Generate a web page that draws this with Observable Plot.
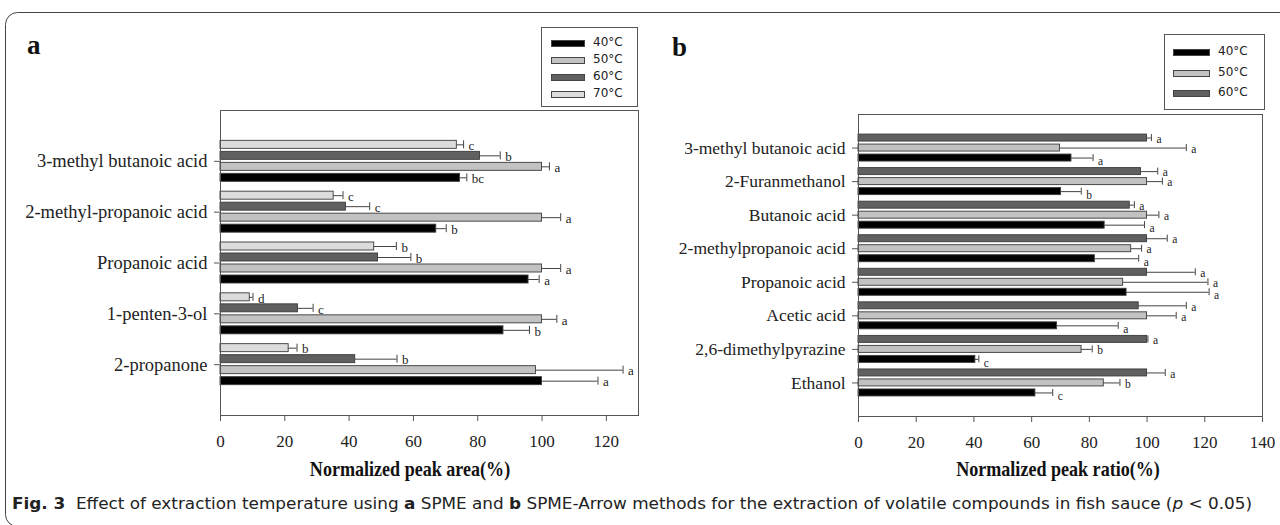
<!DOCTYPE html>
<html>
<head>
<meta charset="utf-8">
<script src="https://cdn.jsdelivr.net/npm/d3@7"></script>
<script src="https://cdn.jsdelivr.net/npm/@observablehq/plot@0.6"></script>
<style>
  html, body { margin: 0; padding: 0; background: #fff; }
  #wrap { position: relative; width: 1280px; height: 525px; overflow: hidden; background: #fff; }
  .abs { position: absolute; }
  .panel-letter { font-family: "Liberation Serif", serif; font-weight: bold; font-size: 27px; color: #111; line-height: 1; }
  .axis-title { font-family: "Liberation Serif", serif; font-weight: bold; font-size: 21px; color: #111; white-space: nowrap; transform: translateX(-50%) scaleX(0.86); line-height: 1; }
  .legend { border: 1px solid #555; box-sizing: border-box; background: #fff; }
  .legend .item { position: absolute; font-family: "DejaVu Sans", sans-serif; font-size: 12px; color: #222; white-space: nowrap; line-height: 1; }
  .legend .sw { position: absolute; box-sizing: border-box; border: 1px solid #444; }
</style>
</head>
<body>
<div id="wrap"></div>
<script>
// ---------- Data: panel a (SPME) ----------
const catsA = ["3-methyl butanoic acid", "2-methyl-propanoic acid", "Propanoic acid", "1-penten-3-ol", "2-propanone"];
const seriesA = ["40°C", "50°C", "60°C", "70°C"];
const a40 = [74.5, 67.1, 95.8, 88.0, 100];
const a50 = [100, 100, 100, 100, 98.1];
const a60 = [80.7, 39.0, 49.0, 24.1, 41.9];
const a70 = [73.5, 35.2, 47.8, 9.1, 21.2];
const a40err = [2.1, 3.1, 3.3, 8.1, 17.4];
const a50err = [2.3, 5.8, 5.8, 4.6, 27.1];
const a60err = [6.3, 7.4, 10.2, 4.7, 13.0];
const a70err = [2.1, 2.9, 6.9, 1.0, 2.6];
const a40sig = ["bc", "b", "a", "b", "a"];
const a50sig = ["a", "a", "a", "a", "a"];
const a60sig = ["b", "c", "b", "c", "b"];
const a70sig = ["c", "c", "b", "d", "b"];
const ticksA = [0, 20, 40, 60, 80, 100, 120];

// ---------- Data: panel b (SPME-Arrow) ----------
const catsB = ["3-methyl butanoic acid", "2-Furanmethanol", "Butanoic acid", "2-methylpropanoic acid", "Propanoic acid", "Acetic acid", "2,6-dimethylpyrazine", "Ethanol"];
const seriesB = ["40°C", "50°C", "60°C"];
const b40 = [73.8, 70.2, 85.3, 81.9, 92.9, 68.8, 40.5, 61.3];
const b50 = [69.8, 100, 100, 94.5, 91.7, 100, 77.3, 85.0];
const b60 = [100, 97.9, 94.0, 100, 100, 97.1, 100, 100];
const b40err = [7.5, 7.0, 13.8, 15.2, 28.6, 21.2, 1.2, 6.0];
const b50err = [43.8, 5.3, 4.1, 3.6, 29.4, 10.1, 3.7, 5.6];
const b60err = [1.5, 5.8, 1.6, 7.0, 16.7, 16.5, 0.3, 6.3];
const b40sig = ["a", "b", "a", "a", "a", "a", "c", "c"];
const b50sig = ["a", "a", "a", "a", "a", "a", "b", "b"];
const b60sig = ["a", "a", "a", "a", "a", "a", "a", "a"];
const ticksB = [0, 20, 40, 60, 80, 100, 120, 140];

const fills = {"40°C": "#000000", "50°C": "#c2c2c2", "60°C": "#606060", "70°C": "#dcdcdc"};

// ---------- helpers ----------
function buildRows(cats, series, vals, errs, sigs, stepPx, barPx, unitPx, lowShiftPx) {
  const rows = [];
  const n = series.length;
  cats.forEach((c, i) => {
    const pos = cats.length - i; // top category highest
    series.forEach((s, j) => {
      const off = (j - (n - 1) / 2) * stepPx / unitPx;
      const half = barPx / unitPx / 2;
      const center = pos + off;
      const sigY = center - (j === 0 ? lowShiftPx / unitPx : 0);
      rows.push({cat: c, series: s, v: vals[j][i], e: errs[j][i], sig: sigs[j][i],
                 center, sigY, lo: center - half, hi: center + half});
    });
  });
  return rows;
}

function panel({cats, rows, xMax, xTicks, yMax, width, height, mt, mb, ml, mr, labelSize, capPx, sigSize}) {
  const unit = (height - mt - mb) / yMax;
  const capHalf = capPx / unit / 2;
  return Plot.plot({
    width, height,
    marginTop: mt, marginBottom: mb, marginLeft: ml, marginRight: mr,
    style: {fontFamily: "Liberation Serif, serif", color: "#222", background: "transparent", overflow: "visible"},
    x: {domain: [0, xMax]},
    y: {domain: [0, yMax]},
    marks: [
      Plot.rectX(rows, {x1: 0, x2: "v", y1: "lo", y2: "hi", fill: d => fills[d.series], stroke: "#3a3a3a", strokeWidth: 0.9}),
      Plot.ruleY(rows, {y: "center", x1: "v", x2: d => d.v + d.e, stroke: "#444", strokeWidth: 1}),
      Plot.ruleX(rows, {x: d => d.v + d.e, y1: d => d.center - capHalf, y2: d => d.center + capHalf, stroke: "#444", strokeWidth: 1}),
      Plot.text(rows, {x: d => d.v + d.e, y: "sigY", text: "sig", dx: 5, dy: 1, textAnchor: "start", fontSize: sigSize, fill: "#222"}),
      Plot.axisY({ticks: d3.range(1, cats.length + 1), tickFormat: d => cats[cats.length - d], tickSize: 6, tickPadding: 7, fontSize: labelSize, label: null, stroke: "#555"}),
      Plot.axisX({ticks: xTicks, tickSize: 6, tickPadding: 13, fontSize: 17, label: null, stroke: "#555"}),
      Plot.frame({stroke: "#555", strokeWidth: 1})
    ]
  });
}

const wrap = document.getElementById("wrap");

// outer rounded border
const ns = "http://www.w3.org/2000/svg";
const border = document.createElementNS(ns, "svg");
border.setAttribute("width", 1280); border.setAttribute("height", 525);
border.style.position = "absolute"; border.style.left = "0"; border.style.top = "0";
const br = document.createElementNS(ns, "rect");
br.setAttribute("x", 5.5); br.setAttribute("y", 12.5); br.setAttribute("width", 1300); br.setAttribute("height", 514);
br.setAttribute("rx", 12); br.setAttribute("fill", "none"); br.setAttribute("stroke", "#444"); br.setAttribute("stroke-width", 1);
border.appendChild(br);
wrap.appendChild(border);

// Panel a
const rowsA = buildRows(catsA, seriesA, [a40, a50, a60, a70], [a40err, a50err, a60err, a70err], [a40sig, a50sig, a60sig, a70sig], 11, 8, (415 - 110) / 6, 0);
const plotA = panel({cats: catsA, rows: rowsA, xMax: 130, xTicks: ticksA, yMax: 6, width: 640, height: 490, mt: 110, mb: 75, ml: 220, mr: 2, labelSize: 18.5, capPx: 8, sigSize: 13});
plotA.style.position = "absolute"; plotA.style.left = "0px"; plotA.style.top = "0px";
wrap.appendChild(plotA);

// Panel b
const rowsB = buildRows(catsB, seriesB, [b40, b50, b60], [b40err, b50err, b60err], [b40sig, b50sig, b60sig], 10, 7, (416 - 114) / 9, 2.5);
const plotB = panel({cats: catsB, rows: rowsB, xMax: 140, xTicks: ticksB, yMax: 9, width: 640, height: 491, mt: 114, mb: 75, ml: 218, mr: 18, labelSize: 17.5, capPx: 7, sigSize: 11.5});
plotB.style.position = "absolute"; plotB.style.left = "640px"; plotB.style.top = "0px";
wrap.appendChild(plotB);

// panel letters
function addDiv(cls, text, left, top) {
  const d = document.createElement("div");
  d.className = "abs " + cls; d.textContent = text;
  d.style.left = left + "px"; d.style.top = top + "px";
  wrap.appendChild(d); return d;
}
addDiv("panel-letter", "a", 27, 32);
addDiv("panel-letter", "b", 672, 34);

// axis titles
addDiv("axis-title", "Normalized peak area(%)", 410, 459);
addDiv("axis-title", "Normalized peak ratio(%)", 1058, 459);

// legends
function legend(series, box, swW, swY, textX) {
  const lg = document.createElement("div");
  lg.className = "abs legend";
  lg.style.left = box.x + "px"; lg.style.top = box.y + "px";
  lg.style.width = box.w + "px"; lg.style.height = box.h + "px";
  series.forEach((s, i) => {
    const sw = document.createElement("div");
    sw.className = "sw";
    sw.style.left = box.sx + "px"; sw.style.top = (swY[i] - 3) + "px";
    sw.style.width = swW + "px"; sw.style.height = "7px";
    sw.style.background = fills[s];
    lg.appendChild(sw);
    const t = document.createElement("div");
    t.className = "item"; t.textContent = s;
    t.style.left = textX + "px"; t.style.top = (swY[i] - 7) + "px";
    lg.appendChild(t);
  });
  wrap.appendChild(lg);
}
legend(seriesA, {x: 541, y: 27, w: 97, h: 80, sx: 9}, 34, [15, 32, 49, 66], 51);
legend(seriesB, {x: 1164, y: 34, w: 101, h: 76, sx: 8}, 37, [17, 38, 58], 53);

// caption
const cap = document.createElementNS(ns, "svg");
cap.setAttribute("width", 1280); cap.setAttribute("height", 30);
cap.style.position = "absolute"; cap.style.left = "0"; cap.style.top = "490px";
const ct = document.createElementNS(ns, "text");
ct.setAttribute("x", 12); ct.setAttribute("y", 19);
ct.setAttribute("textLength", 1240); ct.setAttribute("lengthAdjust", "spacingAndGlyphs");
ct.setAttribute("font-family", "DejaVu Sans, sans-serif"); ct.setAttribute("font-size", 15);
ct.setAttribute("font-stretch", "condensed"); ct.setAttribute("fill", "#222");
const parts = [["Fig. 3", "bold", "normal"], ["  Effect of extraction temperature using ", "normal", "normal"], ["a", "bold", "normal"],
  [" SPME and ", "normal", "normal"], ["b", "bold", "normal"], [" SPME-Arrow methods for the extraction of volatile compounds in fish sauce (", "normal", "normal"],
  ["p", "normal", "italic"], [" < 0.05)", "normal", "normal"]];
parts.forEach(([txt, w, st]) => {
  const ts = document.createElementNS(ns, "tspan");
  ts.setAttribute("font-weight", w); ts.setAttribute("font-style", st);
  ts.textContent = txt;
  ct.appendChild(ts);
});
ct.setAttribute("style", "white-space: pre");
cap.appendChild(ct);
wrap.appendChild(cap);
</script>
</body>
</html>
